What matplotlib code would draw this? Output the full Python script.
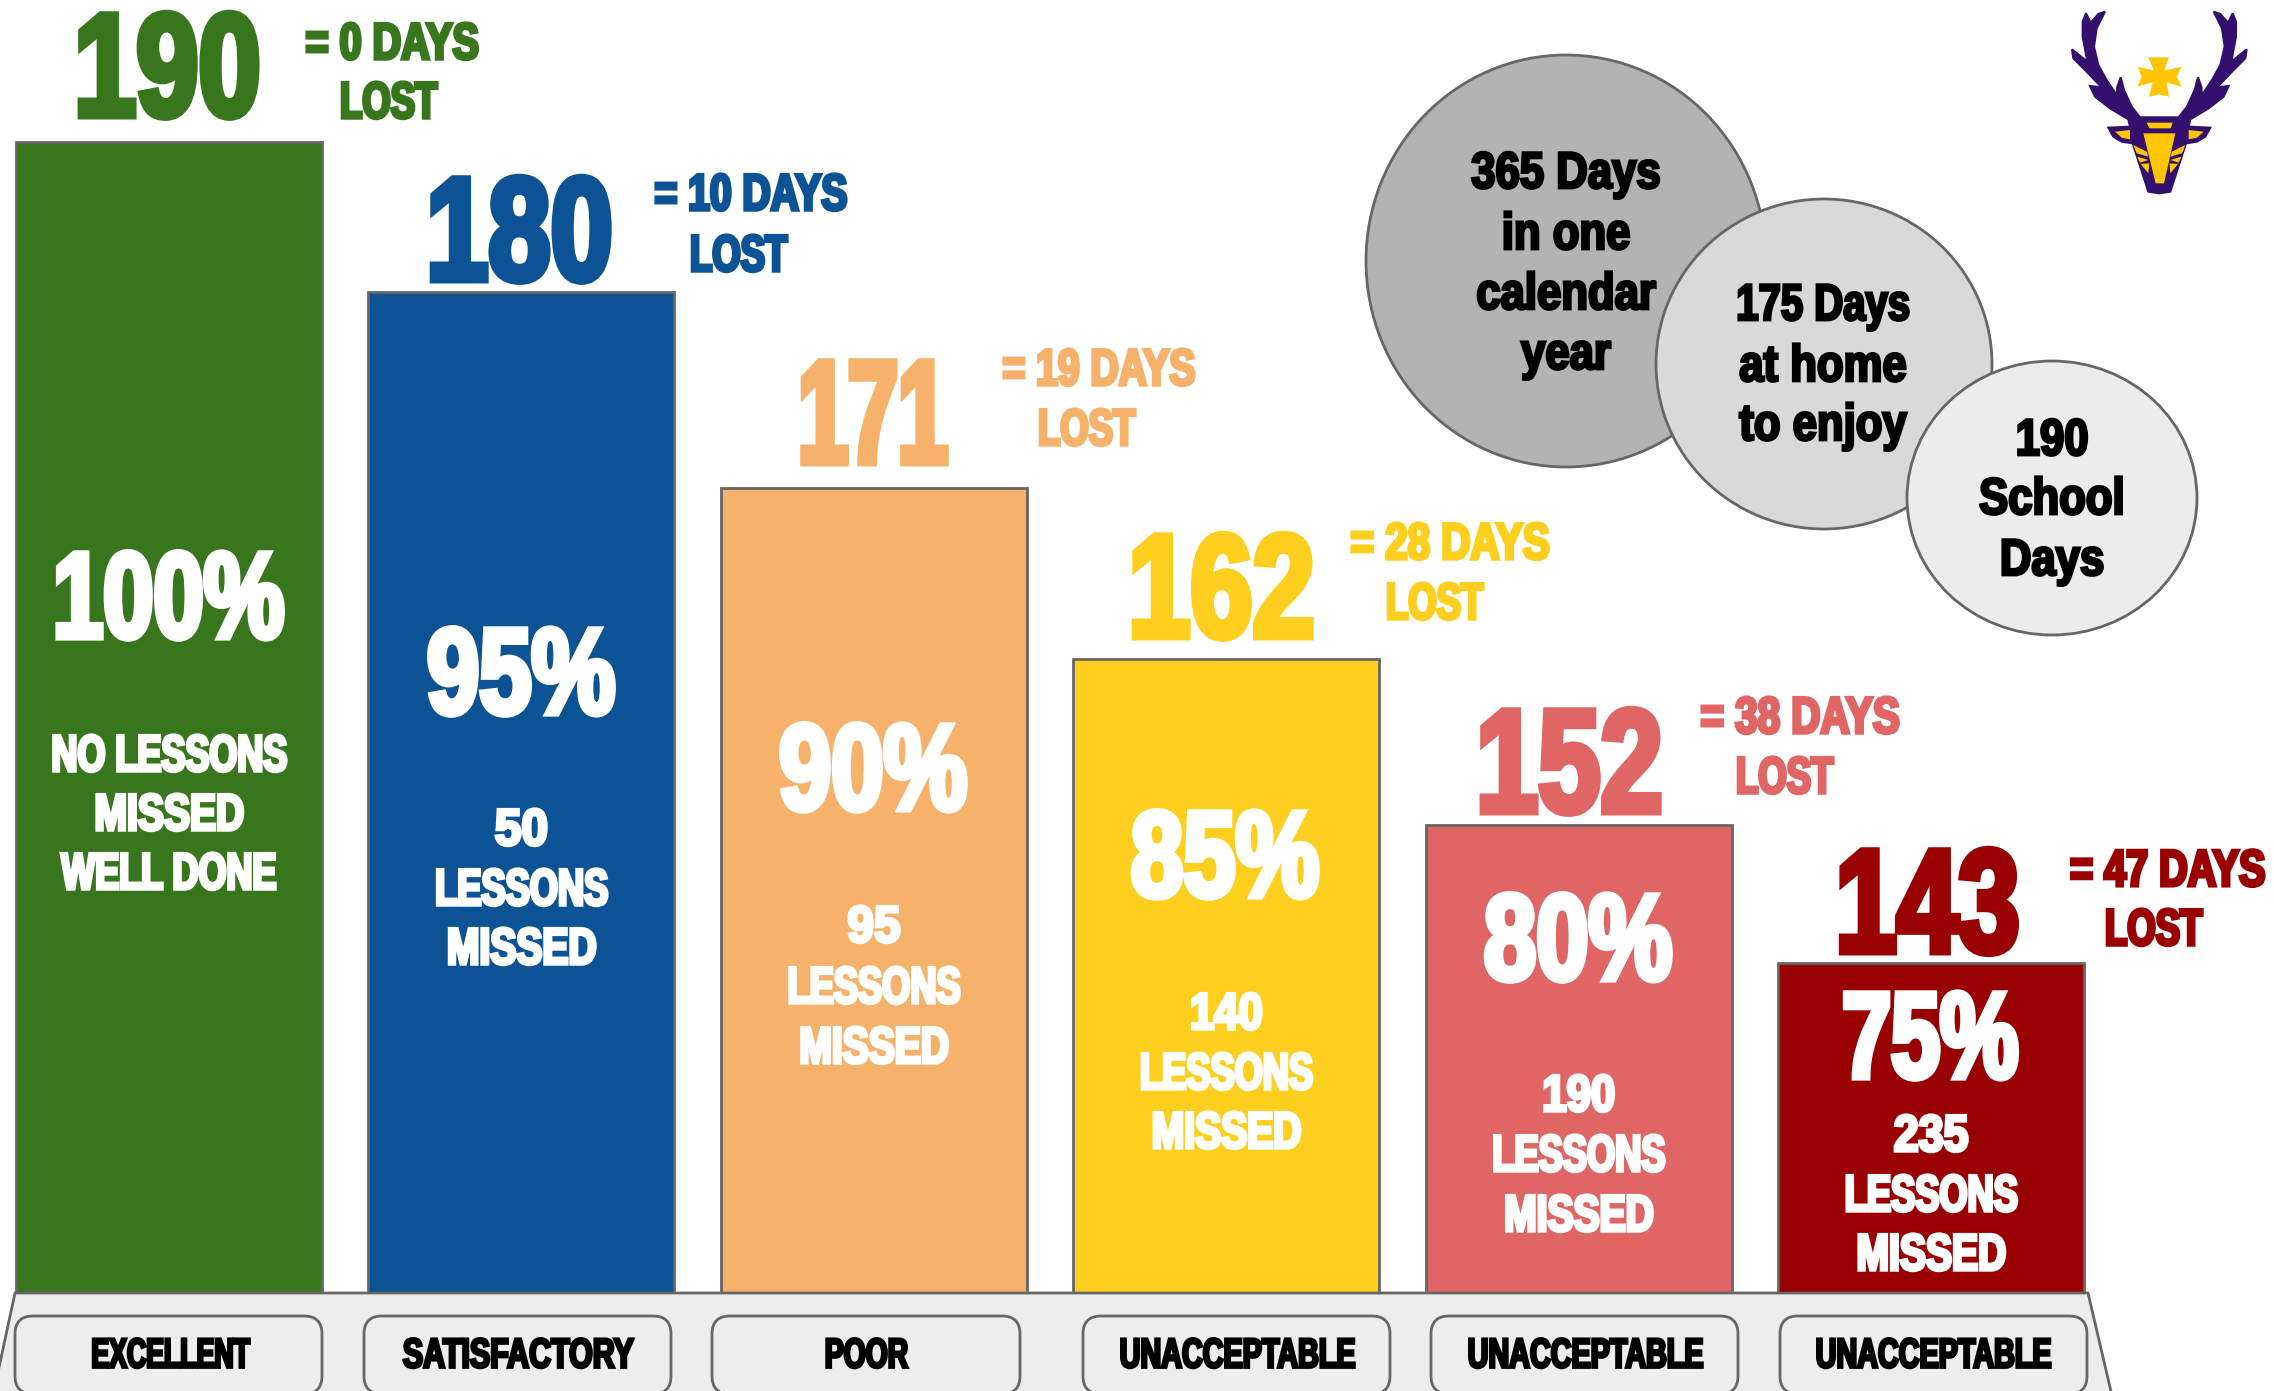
import matplotlib
matplotlib.use("Agg")
import matplotlib.pyplot as plt
import matplotlib.patheffects as pe
from matplotlib.patches import Ellipse, FancyBboxPatch, Polygon
from matplotlib.transforms import Affine2D

plt.rcParams["font.family"] = ["Liberation Sans", "DejaVu Sans"]
plt.rcParams["font.weight"] = "bold"

# ---- data ----
categories = ["EXCELLENT", "SATISFACTORY", "POOR", "UNACCEPTABLE", "UNACCEPTABLE", "UNACCEPTABLE"]
days_attended = [190, 180, 171, 162, 152, 143]
days_lost = [0, 10, 19, 28, 38, 47]
percent = [100, 95, 90, 85, 80, 75]
lessons_missed = [0, 50, 95, 140, 190, 235]
# bar tops as drawn (the drawn axis is not quite linear), in days
bar_tops = [190.0, 181.4, 170.2, 160.4, 150.9, 143.0]
colors = ["#38761d", "#0b5394", "#f6b26b", "#ffcf1f", "#e06666", "#990000"]
circle_lines = [["365 Days", "in one", "calendar", "year"],
                ["175 Days", "at home", "to enjoy"],
                ["190", "School", "Days"]]
circle_colors = ["#b3b3b3", "#d9d9d9", "#ececec"]

W, H = 2274, 1391
EDGE = "#666666"
fig = plt.figure(figsize=(W / 100, H / 100), dpi=100)

# bar axes: position i centred at 169 + 352.4 i px, 17.47 px per day
BASE = 124.1
ax = fig.add_axes([0, 0, 1, 1])
ax.set_xlim(-169 / 352.4, (W - 169) / 352.4)
ax.set_ylim(BASE - (H - 1293) / 17.47, BASE + 1293 / 17.47)
ax.axis("off")

# overlay in image pixels for annotation
ov = fig.add_axes([0, 0, 1, 1], facecolor="none")
ov.set_xlim(0, W)
ov.set_ylim(H, 0)
ov.axis("off")

ov.add_patch(Polygon([(15, 1293), (2088, 1293), (2113, 1400), (-8, 1400)], closed=True,
                     fc="#ededed", ec=EDGE, lw=2, zorder=1))
ax.set_zorder(2)
ov.set_zorder(3)
ax.bar(range(6), [t - BASE for t in bar_tops], bottom=BASE, width=306 / 352.4,
       color=colors, edgecolor=EDGE, linewidth=2)


class Squeeze(pe.AbstractPathEffect):
    """Draw real text condensed and emboldened (Impact-like)."""

    def __init__(self, sx, sy, anchor, lw, color):
        super().__init__()
        self.sx, self.sy, self.anchor, self.lw, self.color = sx, sy, anchor, lw, color

    def draw_path(self, renderer, gc, tpath, affine, rgbFace=None):
        ext = tpath.get_extents(affine)
        x0 = {"left": ext.x0, "right": ext.x1, "center": (ext.x0 + ext.x1) / 2}[self.anchor]
        y0 = (ext.y0 + ext.y1) / 2
        aff = affine + Affine2D().translate(-x0, -y0).scale(self.sx, self.sy).translate(x0, y0)
        g = renderer.new_gc()
        g.copy_properties(gc)
        g.set_foreground(self.color)
        g.set_linewidth(self.lw)
        g.set_joinstyle("miter")
        renderer.draw_path(g, tpath, aff, rgbFace)
        g.restore()


def T(x, y, s, size, color, sx=0.76, sy=1.0, ha="center", stroke=2.0, z=6):
    t = ov.text(x, y - 2, s, fontsize=size, color=color, ha=ha, va="center_baseline", zorder=z)
    t.set_path_effects([Squeeze(sx, sy, ha, stroke, color)])
    return t


num_xy = [(167, 65), (519, 229), (872, 412), (1221, 586), (1569, 761), (1927, 901)]
pct_xy = [(168, 595), (521, 671), (873, 767), (1225, 854), (1578, 937), (1930, 1035)]
days_xy = [(305, 42, 339, 101), (654, 193, 689, 254), (1002, 368, 1037, 428),
           (1350, 542, 1385, 602), (1700, 716, 1735, 776), (2070, 869, 2104, 928)]
less_y = [(754, 813, 872), (828, 888, 947), (925, 986, 1046),
          (1012, 1072, 1131), (1094, 1154, 1214), (1134, 1194, 1253)]
bar_cx = [169 + 352.4 * i for i in range(6)]
num_sx = [0.76, 0.76, 0.61, 0.76, 0.76, 0.75]
pct_sx = [0.74, 0.77, 0.77, 0.77, 0.77, 0.72]
days_sx = [0.77, 0.76, 0.76, 0.785, 0.785, 0.77]
line_sx = {"NO LESSONS": 0.70, "WELL DONE": 0.70, "LESSONS": 0.705, "MISSED": 0.76,
           "50": 0.93, "95": 0.93, "140": 0.85, "190": 0.85, "235": 0.87}
cat_sx = {"EXCELLENT": 0.64, "SATISFACTORY": 0.73, "POOR": 0.68, "UNACCEPTABLE": 0.69}

for i in range(6):
    T(*num_xy[i], str(days_attended[i]), 106, colors[i], sx=num_sx[i], stroke=5)
    T(*pct_xy[i], f"{percent[i]}%", 88, "white", sx=pct_sx[i], stroke=4.5)
    x1, y1, x2, y2 = days_xy[i]
    label = f"= {days_lost[i]} DAYS"
    if i == 5:  # smaller nominal size, same drawn size: the text box stays in the picture
        T(x1, y1, label, 29, colors[i], sx=days_sx[i] * 37 / 29, sy=37 / 29, ha="left", stroke=2.5)
    else:
        T(x1, y1, label, 37, colors[i], sx=days_sx[i], ha="left", stroke=2.5)
    T(x2, y2, "LOST", 37, colors[i], sx=0.71, ha="left", stroke=2.5)
    if lessons_missed[i] == 0:
        lines = ["NO LESSONS", "MISSED", "WELL DONE"]
    else:
        lines = [str(lessons_missed[i]), "LESSONS", "MISSED"]
    for y, s in zip(less_y[i], lines):
        T(bar_cx[i], y, s, 37, "white", sx=line_sx.get(s, 0.76), stroke=2.5)

# category boxes
box_x = [(15, 322), (364, 671), (712, 1020), (1083, 1390), (1431, 1738), (1780, 2087)]
lab_x = [170, 518, 866, 1237, 1585, 1933]
for (a, b), lx, c in zip(box_x, lab_x, categories):
    ov.add_patch(FancyBboxPatch((a, 1316), b - a, 78, boxstyle="round,pad=0,rounding_size=18",
                                fc="#ededed", ec=EDGE, lw=2, zorder=4))
    T(lx, 1354, c, 30, "black", sx=cat_sx[c], stroke=2)

# circles
circ = [(1566, 261, 400, 412), (1824, 364, 336, 330), (2052, 498, 290, 274)]
for (cx, cy, w, h), fc, z in zip(circ, circle_colors, (1, 2, 3)):
    ov.add_patch(Ellipse((cx, cy), w, h, fc=fc, ec=EDGE, lw=2, zorder=z))
circ_text = [(1566, (171, 232, 292, 352)), (1823, (303, 364, 423)), (2052, (438, 497, 558))]
circ_sx = {"175 Days": 0.78}
for (x, ys), lines in zip(circ_text, circle_lines):
    for y, s in zip(ys, lines):
        T(x, y, s, 37, "black", sx=circ_sx.get(s, 0.85), stroke=2)

# crest (logo), drawn from zoomed outline, mirrored about the muzzle axis
PURPLE, GOLD = "#33106e", "#ffc600"


def crest(pts):
    return [(2000 + x / 3, y / 3) for x, y in pts]


def mirror(pts, axis=478):
    return [(2 * axis - x, y) for x, y in pts]


half = [(478, 352), (420, 352), (395, 320), (372, 270), (362, 232), (352, 260), (350, 285), (320, 240),
        (295, 195), (282, 140), (290, 85), (315, 35), (295, 42), (272, 68), (258, 40), (248, 65),
        (248, 110), (262, 185), (216, 148), (220, 175), (255, 210), (305, 262), (270, 258), (285, 290),
        (330, 325), (385, 358), (390, 380), (325, 383), (340, 410), (365, 425), (398, 430), (445, 575),
        (478, 580)]
ov.add_patch(Polygon(crest(half + mirror(half)[::-1]), closed=True, fc=PURPLE, ec=PURPLE, lw=1.5, zorder=5))
gold_parts = [[(345, 395), (390, 390), (390, 418), (365, 413)],
              [(400, 435), (440, 455), (445, 470), (410, 460)],
              [(412, 470), (445, 480), (420, 488)],
              [(422, 492), (448, 490), (445, 520)]]
for p in gold_parts:
    ov.add_patch(Polygon(crest(p), closed=True, fc=GOLD, ec="none", zorder=6))
    ov.add_patch(Polygon(crest(mirror(p)), closed=True, fc=GOLD, ec="none", zorder=6))
for p in [[(440, 368), (518, 368), (512, 385), (448, 385)],
          [(430, 400), (526, 400), (492, 550), (467, 550)],
          [(445, 172), (507, 172), (492, 212), (545, 200), (530, 230), (545, 260), (500, 247), (507, 290),
           (478, 283), (447, 290), (458, 247), (413, 260), (425, 230), (413, 200), (462, 212)]]:
    ov.add_patch(Polygon(crest(p), closed=True, fc=GOLD, ec="none", zorder=6))

fig.savefig("out.png", dpi=100)
